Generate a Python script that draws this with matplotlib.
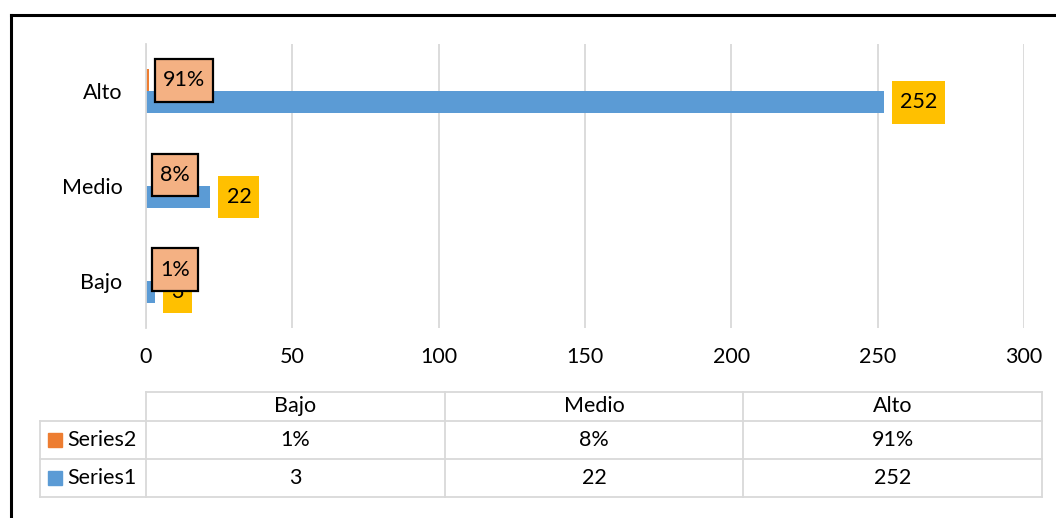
import matplotlib
matplotlib.use("Agg")
import matplotlib.pyplot as plt
from matplotlib.lines import Line2D
from matplotlib.patches import Rectangle
from matplotlib.path import Path

plt.rcParams["font.family"] = ["Lato", "DejaVu Sans"]

# datos
categorias = ["Bajo", "Medio", "Alto"]
series1 = [3, 22, 252]
series2 = [0.01, 0.08, 0.91]
nombres = ["Series1", "Series2"]
xticks = [0, 50, 100, 150, 200, 250, 300]

AZUL = "#5B9BD5"
NARANJA = "#ED7D31"
AMARILLO = "#FFC000"
SALMON = "#F4B183"
GRIS = "#D9D9D9"

W, H = 1056, 518
DPI = 100
FS = 15.5
PADX, PADY = 0.38, 0.52

fig = plt.figure(figsize=(W / DPI, H / DPI), dpi=DPI)


def fx(x):
    return x / W


def fy(y):
    return 1 - y / H


def caja(x0, y0, width, height, mutation_size):
    # caja rectangular con relleno distinto en x e y
    px, py = PADX * mutation_size, PADY * mutation_size
    a, b = x0 - px, y0 - py
    c, d = x0 + width + px, y0 + height + py
    return Path([(a, b), (c, b), (c, d), (a, d), (a, b)],
                [Path.MOVETO, Path.LINETO, Path.LINETO, Path.LINETO, Path.CLOSEPOLY])


# area del grafico (pixeles)
left, right, top, bottom = 146, 1024, 44, 328
ax = fig.add_axes([fx(left), fy(bottom), (right - left) / W, (bottom - top) / H])

ypos = list(range(len(categorias)))
alto = 0.232
ax.barh([y - alto / 2 for y in ypos], series1, height=alto, color=AZUL, zorder=2)
ax.barh([y + alto / 2 for y in ypos], series2, height=alto, color=NARANJA, zorder=2)

ax.set_xlim(0, 300)
ax.set_ylim(-0.5, len(categorias) - 0.5)
ax.set_xticks(xticks)
ax.set_yticks(ypos)
ax.set_yticklabels(categorias)
ax.tick_params(axis="both", length=0, labelsize=FS)
ax.tick_params(axis="y", pad=17)
ax.tick_params(axis="x", pad=14)
ax.grid(axis="x", color=GRIS, lw=1.3, zorder=0)
for s in ["top", "right", "bottom"]:
    ax.spines[s].set_visible(False)
ax.spines["left"].set_color(GRIS)
ax.spines["left"].set_linewidth(1.3)

padx_px = PADX * FS * DPI / 72

# etiquetas Series1 (amarillas)
for y, v in zip(ypos, series1):
    ax.annotate(str(v), (v, y - alto / 2), xytext=(8 + padx_px, 0),
                textcoords="offset pixels", ha="left", va="center",
                fontsize=FS, zorder=5,
                bbox=dict(boxstyle=caja, fc=AMARILLO, ec="none"))

# etiquetas Series2 (salmon con borde)
for y, v in zip(ypos, series2):
    ax.annotate(f"{v:.0%}", (v, y + alto / 2), xytext=(6 + padx_px, 0),
                textcoords="offset pixels", ha="left", va="center",
                fontsize=FS, zorder=6,
                bbox=dict(boxstyle=caja, fc=SALMON, ec="black", lw=1.6))

# tabla de datos
tx0, tx1 = 146, 1042
lx = 40
filas = [392, 421, 459, 497]
ancho = (tx1 - tx0) / len(categorias)
cols = [tx0 + i * ancho for i in range(len(categorias) + 1)]

def linea(x0, y0, x1, y1, color=GRIS, lw=1.3):
    fig.add_artist(Line2D([fx(x0), fx(x1)], [fy(y0), fy(y1)], color=color, lw=lw))

linea(tx0, filas[0], tx1, filas[0])
for r in filas[1:]:
    linea(lx, r, tx1, r)
linea(lx, filas[1], lx, filas[3])
for c in cols:
    linea(c, filas[0], c, filas[3])

for i, cat in enumerate(categorias):
    cx = (cols[i] + cols[i + 1]) / 2
    fig.text(fx(cx), fy((filas[0] + filas[1]) / 2), cat, ha="center", va="center", fontsize=FS)
    fig.text(fx(cx), fy((filas[1] + filas[2]) / 2), f"{series2[i]:.0%}", ha="center", va="center", fontsize=FS)
    fig.text(fx(cx), fy((filas[2] + filas[3]) / 2), str(series1[i]), ha="center", va="center", fontsize=FS)

for fila, nombre, color in [(1, nombres[1], NARANJA), (2, nombres[0], AZUL)]:
    cy = (filas[fila] + filas[fila + 1]) / 2
    fig.add_artist(Rectangle((fx(48), fy(cy + 7)), 14 / W, 14 / H, color=color))
    fig.text(fx(67), fy(cy), nombre, ha="left", va="center", fontsize=FS)

# borde del grafico
linea(11, 15, W + 5, 15, color="black", lw=2.2)
linea(11, 15, 11, H + 5, color="black", lw=2.2)

fig.savefig("out.png", dpi=DPI)
